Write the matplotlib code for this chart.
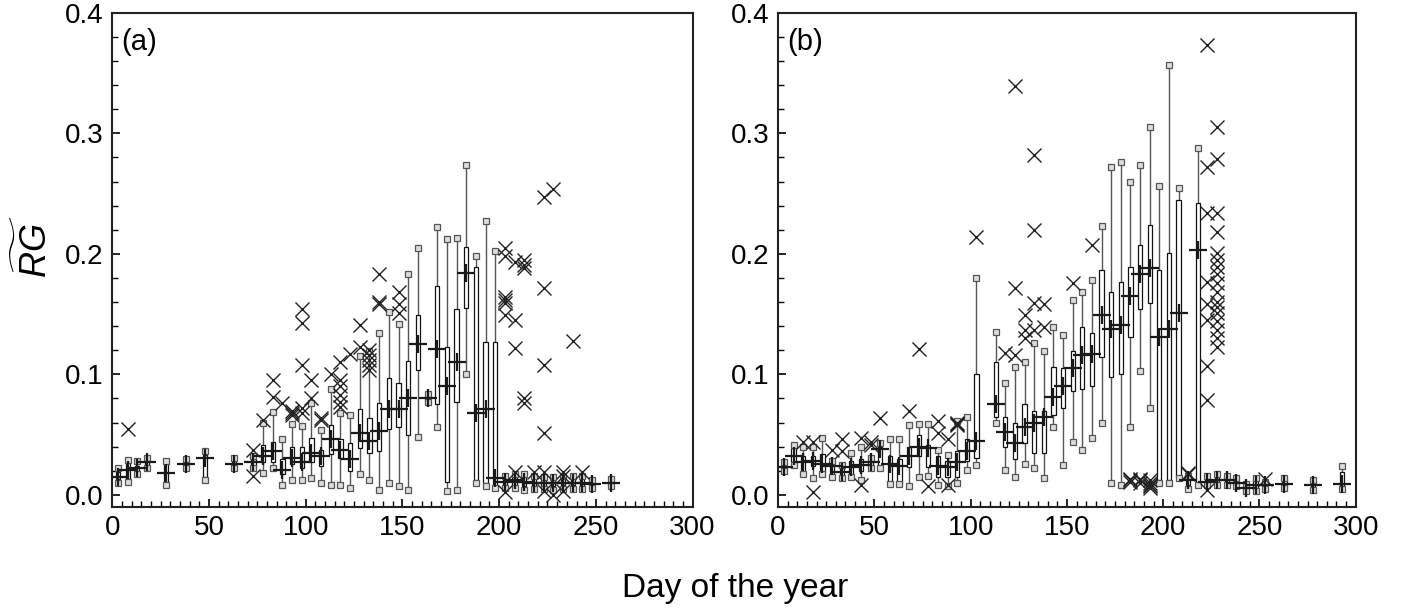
import numpy as np
import matplotlib.pyplot as plt
from matplotlib.ticker import MultipleLocator

plt.rcParams['font.family'] = ['Liberation Sans', 'DejaVu Sans']
plt.rcParams['mathtext.fontset'] = 'custom'
plt.rcParams['mathtext.it'] = 'Liberation Sans:italic'
plt.rcParams['mathtext.rm'] = 'Liberation Sans'

# ---- panel (a) ----
days_a = [3, 8, 13, 18, 28, 38, 48, 63, 73, 78, 83, 88, 93, 98, 103, 108, 113, 118, 123, 128,
          133, 138, 143, 148, 153, 158, 163, 168, 173, 178, 183, 188, 193, 198, 203, 208, 213,
          218, 223, 228, 233, 238, 243, 248, 258]
lo_a = [0.010, 0.011, 0.017, 0.022, 0.008, 0.022, 0.012, 0.022, 0.022, 0.018, 0.022, 0.008, 0.012,
        0.012, 0.014, 0.010, 0.008, 0.008, 0.006, 0.017, 0.012, 0.004, 0.010, 0.007, 0.004, 0.048,
        0.077, 0.056, 0.003, 0.004, 0.100, 0.010, 0.007, 0.006, 0.006, 0.006, 0.004, 0.005, 0.005,
        0.004, 0.005, 0.005, 0.005, 0.006, 0.007]
q1_a = [0.013, 0.013, 0.019, 0.024, 0.010, 0.024, 0.015, 0.024, 0.024, 0.027, 0.027, 0.017, 0.026,
        0.022, 0.027, 0.024, 0.034, 0.031, 0.020, 0.039, 0.035, 0.036, 0.055, 0.056, 0.050, 0.104,
        0.079, 0.075, 0.011, 0.077, 0.155, 0.012, 0.010, 0.007, 0.008, 0.008, 0.007, 0.007, 0.007,
        0.007, 0.008, 0.008, 0.007, 0.007, 0.008]
med_a = [0.015, 0.021, 0.022, 0.027, 0.018, 0.026, 0.031, 0.026, 0.027, 0.032, 0.036, 0.021, 0.031,
         0.027, 0.035, 0.032, 0.046, 0.037, 0.030, 0.051, 0.045, 0.053, 0.071, 0.071, 0.080, 0.125,
         0.080, 0.121, 0.090, 0.110, 0.184, 0.068, 0.071, 0.014, 0.011, 0.012, 0.011, 0.010, 0.010,
         0.010, 0.010, 0.010, 0.010, 0.009, 0.010]
q3_a = [0.019, 0.028, 0.024, 0.029, 0.027, 0.028, 0.033, 0.028, 0.030, 0.041, 0.044, 0.030, 0.040,
        0.040, 0.047, 0.037, 0.058, 0.046, 0.043, 0.071, 0.064, 0.076, 0.097, 0.093, 0.111, 0.149,
        0.082, 0.173, 0.123, 0.154, 0.206, 0.189, 0.127, 0.127, 0.014, 0.015, 0.015, 0.014, 0.012,
        0.013, 0.014, 0.014, 0.014, 0.011, 0.012]
hi_a = [0.022, 0.029, 0.028, 0.031, 0.028, 0.030, 0.036, 0.031, 0.032, 0.060, 0.069, 0.046, 0.059,
        0.057, 0.076, 0.054, 0.088, 0.068, 0.066, 0.115, 0.119, 0.134, 0.152, 0.142, 0.183, 0.205,
        0.084, 0.222, 0.212, 0.213, 0.274, 0.198, 0.227, 0.202, 0.016, 0.017, 0.017, 0.016, 0.015,
        0.015, 0.016, 0.016, 0.016, 0.012, 0.013]
out_a = [[], [0.055], [], [], [], [], [], [], [0.037, 0.016], [0.062], [0.095, 0.081], [0.076],
         [0.068, 0.066, 0.070], [0.154, 0.143, 0.108, 0.072, 0.068], [0.095, 0.080], [0.062, 0.064],
         [0.100], [0.110, 0.095, 0.090, 0.083, 0.077, 0.073], [0.117], [0.141, 0.123],
         [0.120, 0.116, 0.112, 0.108, 0.104], [0.183, 0.160, 0.158], [], [0.168, 0.158, 0.151],
         [], [], [], [], [], [], [], [], [], [],
         [0.205, 0.198, 0.164, 0.162, 0.159, 0.149, 0.002], [0.193, 0.145, 0.122, 0.019],
         [0.195, 0.191, 0.188, 0.080, 0.076], [0.019], [0.247, 0.172, 0.108, 0.051, 0.019, 0.003],
         [0.254, 0.000], [0.019, 0.016, 0.003], [0.128], [0.019], [], []]

# ---- panel (b) ----
days_b = [3, 8, 13, 18, 23, 28, 33, 38, 43, 48, 53, 58, 63, 68, 73, 78, 83, 88, 93, 98, 103, 113,
          118, 123, 128, 133, 138, 143, 148, 153, 158, 163, 168, 173, 178, 183, 188, 193, 198, 203,
          208, 213, 218, 223, 228, 233, 238, 243, 248, 253, 263, 278, 293]
lo_b = [0.020, 0.025, 0.017, 0.014, 0.017, 0.015, 0.014, 0.015, 0.012, 0.022, 0.022, 0.009, 0.009,
        0.007, 0.015, 0.016, 0.008, 0.007, 0.010, 0.021, 0.025, 0.060, 0.021, 0.015, 0.026, 0.022,
        0.014, 0.056, 0.025, 0.044, 0.037, 0.047, 0.060, 0.010, 0.008, 0.056, 0.103, 0.072, 0.010,
        0.010, 0.014, 0.005, 0.008, 0.008, 0.008, 0.008, 0.007, 0.003, 0.003, 0.005, 0.006, 0.004,
        0.005]
q1_b = [0.021, 0.027, 0.018, 0.024, 0.018, 0.016, 0.016, 0.016, 0.020, 0.023, 0.024, 0.010, 0.009,
        0.023, 0.032, 0.023, 0.015, 0.015, 0.015, 0.028, 0.031, 0.065, 0.040, 0.030, 0.043, 0.035,
        0.035, 0.066, 0.072, 0.086, 0.088, 0.090, 0.114, 0.098, 0.100, 0.131, 0.154, 0.159, 0.012,
        0.012, 0.015, 0.008, 0.009, 0.009, 0.009, 0.009, 0.008, 0.004, 0.004, 0.006, 0.007, 0.006,
        0.007]
med_b = [0.023, 0.032, 0.027, 0.028, 0.026, 0.024, 0.019, 0.023, 0.025, 0.027, 0.038, 0.026, 0.024,
         0.032, 0.040, 0.039, 0.024, 0.023, 0.027, 0.036, 0.045, 0.075, 0.052, 0.043, 0.056, 0.060,
         0.065, 0.081, 0.090, 0.105, 0.116, 0.117, 0.149, 0.138, 0.141, 0.165, 0.183, 0.188, 0.131,
         0.138, 0.151, 0.012, 0.203, 0.011, 0.012, 0.012, 0.010, 0.006, 0.008, 0.008, 0.009, 0.008,
         0.009]
q3_b = [0.026, 0.039, 0.032, 0.032, 0.034, 0.025, 0.022, 0.028, 0.030, 0.030, 0.040, 0.032, 0.030,
        0.040, 0.050, 0.041, 0.032, 0.028, 0.036, 0.046, 0.100, 0.110, 0.065, 0.060, 0.075, 0.070,
        0.070, 0.106, 0.105, 0.119, 0.139, 0.134, 0.187, 0.168, 0.177, 0.189, 0.207, 0.224, 0.187,
        0.201, 0.245, 0.014, 0.242, 0.014, 0.015, 0.014, 0.013, 0.008, 0.013, 0.010, 0.013, 0.010,
        0.019]
hi_b = [0.027, 0.041, 0.040, 0.040, 0.047, 0.028, 0.025, 0.035, 0.040, 0.031, 0.043, 0.046, 0.046,
        0.058, 0.059, 0.059, 0.037, 0.033, 0.061, 0.065, 0.180, 0.135, 0.093, 0.106, 0.110, 0.126,
        0.119, 0.139, 0.133, 0.162, 0.168, 0.178, 0.223, 0.272, 0.276, 0.260, 0.274, 0.305, 0.256,
        0.357, 0.255, 0.016, 0.288, 0.016, 0.017, 0.016, 0.014, 0.009, 0.014, 0.011, 0.014, 0.012,
        0.024]
out_b = [[], [], [0.044], [0.044, 0.002], [], [0.037], [0.046, 0.036], [], [0.047, 0.008],
         [0.044, 0.041], [0.064], [], [], [0.070], [0.121], [0.007], [0.061, 0.051], [0.046, 0.008],
         [0.060, 0.058, 0.059], [], [0.214], [], [0.118], [0.339, 0.172, 0.116],
         [0.149, 0.137, 0.130], [0.282, 0.220, 0.159, 0.137], [0.158, 0.139], [], [], [0.176], [],
         [0.207], [], [], [], [0.013, 0.011, 0.012], [0.013, 0.012, 0.010],
         [0.012, 0.010, 0.008, 0.007, 0.006], [], [], [], [0.017, 0.018], [],
         [0.373, 0.272, 0.234, 0.177, 0.158, 0.145, 0.107, 0.079, 0.004],
         [0.305, 0.279, 0.234, 0.218, 0.201, 0.195, 0.189, 0.183, 0.176, 0.168, 0.160, 0.156,
          0.151, 0.144, 0.137, 0.130, 0.123],
         [], [], [], [], [0.013], [], [], []]


def draw_boxes(ax, days, lo, q1, med, q3, hi, outs, label):
    days = np.array(days)
    lo, q1, med, q3, hi = map(np.array, (lo, q1, med, q3, hi))
    # whiskers
    ax.vlines(days, lo, q1, color='#555555', lw=1.0, zorder=2)
    ax.vlines(days, q3, hi, color='#555555', lw=1.0, zorder=2)
    # boxes
    ax.bar(days, q3 - q1, bottom=q1, width=2.2, color='white', edgecolor='#111111',
           lw=0.9, zorder=3)
    # caps
    ax.plot(days, lo, 's', ms=3.8, mfc='#dddddd', mec='#555555', mew=0.9, zorder=3)
    ax.plot(days, hi, 's', ms=3.8, mfc='#dddddd', mec='#555555', mew=0.9, zorder=3)
    # outliers
    for d, o in zip(days, outs):
        if o:
            ax.plot([d] * len(o), o, 'x', ms=10, mew=1.0, color='#222222', zorder=4)
    # medians
    ax.plot(days, med, '+', ms=13, mew=1.6, color='#1a1a1a', zorder=5)

    ax.set_xlim(0, 300)
    ax.set_ylim(-0.01, 0.4)
    ax.xaxis.set_major_locator(MultipleLocator(50))
    ax.xaxis.set_minor_locator(MultipleLocator(5))
    ax.yaxis.set_minor_locator(MultipleLocator(0.02))
    ax.set_yticks([0, 0.1, 0.2, 0.3, 0.4])
    ax.set_yticklabels(['0.0', '0.1', '0.2', '0.3', '0.4'])
    ax.tick_params(which='both', direction='in', labelsize=20, top=False, right=False)
    ax.tick_params(which='major', length=6, width=1.2, pad=6)
    ax.tick_params(which='minor', length=4, width=1.0)
    for s in ax.spines.values():
        s.set_linewidth(1.5)
        s.set_color('#222222')
    ax.text(0.015, 0.97, label, transform=ax.transAxes, fontsize=21, va='top', ha='left')


fig = plt.figure(figsize=(14.02, 6.10), dpi=100)
ax1 = fig.add_axes([0.080, 0.169, 0.414, 0.810])
ax2 = fig.add_axes([0.555, 0.169, 0.412, 0.810])

draw_boxes(ax1, days_a, lo_a, q1_a, med_a, q3_a, hi_a, out_a, '(a)')
draw_boxes(ax2, days_b, lo_b, q1_b, med_b, q3_b, hi_b, out_b, '(b)')

fig.text(0.025, 0.595, r'$\widetilde{RG}$', rotation=90, fontsize=26, ha='center', va='center')
fig.text(0.524, 0.036, 'Day of the year', fontsize=24, ha='center', va='center')

fig.savefig('out.png', dpi=100)
